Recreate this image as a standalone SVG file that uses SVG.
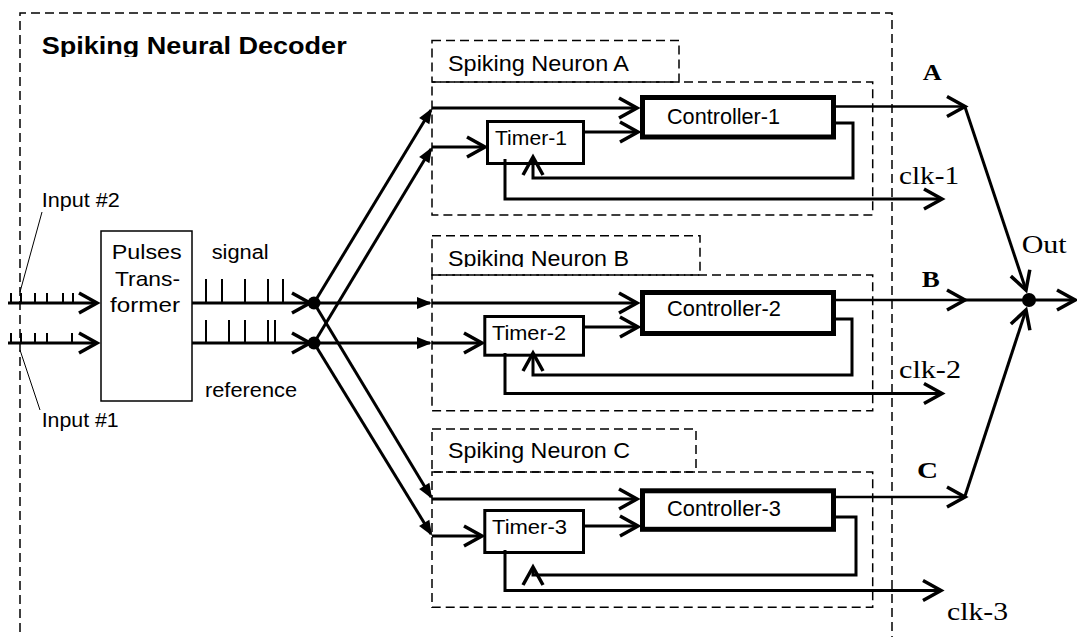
<svg xmlns="http://www.w3.org/2000/svg" width="1077" height="637" viewBox="0 0 1077 637">
<style>
.dash{fill:none;stroke:#000;stroke-width:1.5;stroke-dasharray:9 5}
.box{fill:#fff;stroke:#000;stroke-width:3}
.ctrl{fill:#fff;stroke:#000;stroke-width:5}
.thin{fill:#fff;stroke:#000;stroke-width:1.5}
.ln{fill:none;stroke:#000;stroke-width:3}
.lo{fill:none;stroke:#000;stroke-width:2.5}
.tk{fill:none;stroke:#000;stroke-width:2}
.ptr{fill:none;stroke:#000;stroke-width:1}
.sans{font-family:"Liberation Sans",Arial,sans-serif;fill:#000}
.serif{font-family:"Liberation Serif","Times New Roman",serif;fill:#000}
</style>
<defs>
<marker id="chev" markerUnits="userSpaceOnUse" markerWidth="30" markerHeight="30" overflow="visible" orient="auto" refX="0" refY="0">
<path d="M-18,-10 L0,0 L-18,10" fill="none" stroke="#000" stroke-width="3.5"/>
</marker>
<marker id="tri" markerUnits="userSpaceOnUse" markerWidth="30" markerHeight="30" overflow="visible" orient="auto" refX="0" refY="0">
<path d="M-13,-6 L2,0 L-13,6 Z" fill="#000"/>
</marker>
<clipPath id="clipTitle"><rect x="30" y="20" width="400" height="37"/></clipPath>
<clipPath id="clipB"><rect x="440" y="240" width="250" height="27"/></clipPath>
</defs>
<rect width="1077" height="637" fill="#fff"/>

<g id="decoder">
<path class="dash" d="M20,660 V13 H892 V660"/>
<text class="sans" x="41.7" y="53.5" font-size="23" font-weight="bold" textLength="305" lengthAdjust="spacingAndGlyphs" clip-path="url(#clipTitle)">Spiking Neural Decoder</text>
</g>

<g id="inputs">
<text class="sans" x="41.7" y="206.7" font-size="20" textLength="78" lengthAdjust="spacingAndGlyphs">Input #2</text>
<text class="sans" x="41.7" y="427.3" font-size="20" textLength="77" lengthAdjust="spacingAndGlyphs">Input #1</text>
</g>

<g id="transformer">
<rect class="thin" x="101" y="231" width="91" height="170"/>
<text class="sans" x="111.7" y="259.3" font-size="21" textLength="70" lengthAdjust="spacingAndGlyphs">Pulses</text>
<text class="sans" x="115" y="285.7" font-size="21" textLength="65" lengthAdjust="spacingAndGlyphs">Trans-</text>
<text class="sans" x="110" y="311.7" font-size="21" textLength="70" lengthAdjust="spacingAndGlyphs">former</text>
<text class="sans" x="211.7" y="258.5" font-size="20" textLength="57" lengthAdjust="spacingAndGlyphs">signal</text>
<text class="sans" x="205" y="396.7" font-size="20" textLength="92" lengthAdjust="spacingAndGlyphs">reference</text>
</g>

<g id="neuronA">
<rect class="dash" x="432" y="40.5" width="247" height="41.5"/>
<rect class="dash" x="432" y="82" width="440.7" height="133"/>
<text class="sans" x="448" y="70.7" font-size="22" textLength="181" lengthAdjust="spacingAndGlyphs">Spiking Neuron A</text>
<g id="timer1"><rect class="box" x="487.5" y="121.5" width="96" height="42"/>
<text class="sans" x="495" y="145" font-size="21" textLength="72" lengthAdjust="spacingAndGlyphs">Timer-1</text></g>
<g id="controller1"><rect class="ctrl" x="642.5" y="97.5" width="191" height="39.5"/>
<text class="sans" x="667" y="124" font-size="22" textLength="113" lengthAdjust="spacingAndGlyphs">Controller-1</text></g>
</g>

<g id="neuronB">
<rect class="dash" x="432" y="235.7" width="268" height="39.3"/>
<rect class="dash" x="432" y="275" width="440.7" height="135.7"/>
<text class="sans" x="448" y="266" font-size="22" textLength="181" lengthAdjust="spacingAndGlyphs" clip-path="url(#clipB)">Spiking Neuron B</text>
<g id="timer2"><rect class="box" x="484.8" y="316.5" width="98.7" height="38.7"/>
<text class="sans" x="492" y="340" font-size="21" textLength="74" lengthAdjust="spacingAndGlyphs">Timer-2</text></g>
<g id="controller2"><rect class="ctrl" x="642.5" y="292.5" width="191" height="41"/>
<text class="sans" x="667" y="316" font-size="22" textLength="114" lengthAdjust="spacingAndGlyphs">Controller-2</text></g>
</g>

<g id="neuronC">
<rect class="dash" x="432" y="429" width="264" height="43"/>
<rect class="dash" x="432" y="472" width="440.7" height="135.3"/>
<text class="sans" x="448" y="458.3" font-size="22" textLength="182" lengthAdjust="spacingAndGlyphs">Spiking Neuron C</text>
<g id="timer3"><rect class="box" x="484.8" y="510.5" width="98.7" height="42"/>
<text class="sans" x="492" y="534" font-size="21" textLength="75" lengthAdjust="spacingAndGlyphs">Timer-3</text></g>
<g id="controller3"><rect class="ctrl" x="642.5" y="490.8" width="191" height="38.5"/>
<text class="sans" x="667" y="516" font-size="22" textLength="114" lengthAdjust="spacingAndGlyphs">Controller-3</text></g>
</g>

<g id="outputs">
<text class="serif" x="922.7" y="80" font-size="24" font-weight="bold" textLength="19" lengthAdjust="spacingAndGlyphs">A</text>
<text class="serif" x="921.7" y="286.7" font-size="24" font-weight="bold" textLength="18" lengthAdjust="spacingAndGlyphs">B</text>
<text class="serif" x="917" y="478" font-size="24" font-weight="bold" textLength="21" lengthAdjust="spacingAndGlyphs">C</text>
<text class="serif" x="899" y="184" font-size="25" textLength="60" lengthAdjust="spacingAndGlyphs">clk-1</text>
<text class="serif" x="899" y="378" font-size="25" textLength="62" lengthAdjust="spacingAndGlyphs">clk-2</text>
<text class="serif" x="947" y="620" font-size="25" textLength="61" lengthAdjust="spacingAndGlyphs">clk-3</text>
<text class="serif" x="1021.7" y="252.7" font-size="25" textLength="45" lengthAdjust="spacingAndGlyphs">Out</text>
</g>

<g id="connectors">
<!-- inputs -->
<path class="ln" d="M8,303 H97" marker-end="url(#chev)"/>
<path class="ln" d="M8,343 H97" marker-end="url(#chev)"/>
<path class="tk" d="M11,303V293 M21,303V293 M35,303V293 M47,303V293 M63,303V293 M73,303V293"/>
<path class="tk" d="M11,343V333 M21,343V333 M35,343V333 M47,343V333 M72,343V333"/>
<path class="ptr" d="M42,212 L20,292"/>
<path class="ptr" d="M20,350 L40,410"/>
<!-- signal / reference -->
<path class="ln" d="M192,303 H310" marker-end="url(#chev)"/>
<path class="ln" d="M192,343 H310" marker-end="url(#chev)"/>
<path class="tk" d="M206,303V279 M222,303V279 M245,303V279 M268,303V279 M283,303V279"/>
<path class="tk" d="M206,343V320 M229,343V320 M245,343V320 M268,343V320 M275,343V320"/>
<circle cx="314" cy="303" r="6.5" fill="#000"/>
<circle cx="314" cy="343" r="6.5" fill="#000"/>
<!-- distribution -->
<path class="ln" d="M314,303 H430" marker-end="url(#tri)"/>
<path class="ln" d="M314,343 H430" marker-end="url(#tri)"/>
<path class="ln" d="M314,303 L431,110" marker-end="url(#tri)"/>
<path class="ln" d="M314,343 L431,149" marker-end="url(#tri)"/>
<path class="ln" d="M314,303 L431,497" marker-end="url(#tri)"/>
<path class="ln" d="M314,343 L431,534" marker-end="url(#tri)"/>
<!-- neuron A -->
<path class="ln" d="M432,108 H637" marker-end="url(#chev)"/>
<path class="ln" d="M432,147 H485" marker-end="url(#chev)"/>
<path class="ln" d="M585,132 H638" marker-end="url(#chev)"/>
<path class="lo" d="M836,106.5 H965" marker-end="url(#chev)"/>
<path class="ln" d="M836,123 H853 V178 H533 V157" marker-end="url(#chev)"/>
<path class="ln" d="M505,159 V199 H942" marker-end="url(#chev)"/>
<!-- neuron B -->
<path class="ln" d="M432,303 H637" marker-end="url(#chev)"/>
<path class="ln" d="M432,343 H482" marker-end="url(#chev)"/>
<path class="ln" d="M585,327 H638" marker-end="url(#chev)"/>
<path class="lo" d="M836,300 H965" marker-end="url(#chev)"/>
<path class="ln" d="M836,319 H852 V375 H533 V353" marker-end="url(#chev)"/>
<path class="ln" d="M505,353 V393.5 H942" marker-end="url(#chev)"/>
<!-- neuron C -->
<path class="ln" d="M432,499 H637" marker-end="url(#chev)"/>
<path class="ln" d="M432,536 H482" marker-end="url(#chev)"/>
<path class="ln" d="M585,526 H638" marker-end="url(#chev)"/>
<path class="lo" d="M836,497 H965" marker-end="url(#chev)"/>
<path class="ln" d="M836,517 H856 V575 H533 V567" marker-end="url(#chev)"/>
<path class="ln" d="M505,550 V590.5 H941" marker-end="url(#chev)"/>
<!-- output merge -->
<path class="ln" d="M965,107 L1026,290" marker-end="url(#chev)"/>
<path class="ln" d="M965,496 L1026,310" marker-end="url(#chev)"/>
<path class="ln" d="M965,300 H1075" marker-end="url(#chev)"/>
<circle cx="1029" cy="300" r="7" fill="#000"/>
</g>
</svg>
